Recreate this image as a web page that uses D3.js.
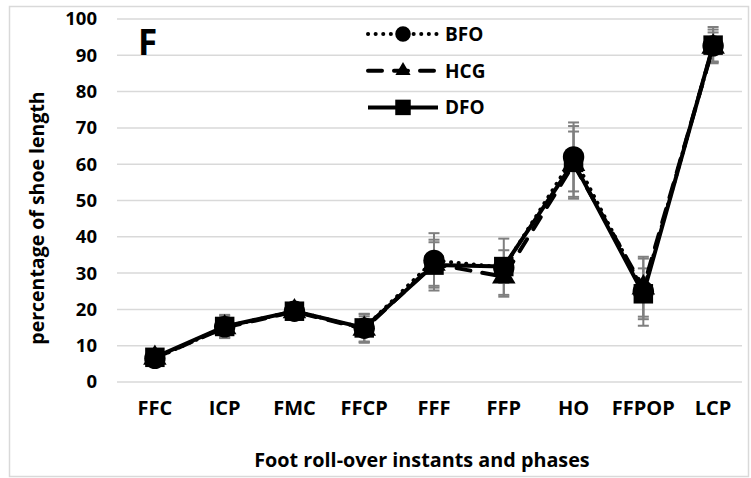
<!DOCTYPE html>
<html>
<head>
<meta charset="utf-8">
<script src="https://cdnjs.cloudflare.com/ajax/libs/d3/7.8.5/d3.min.js"></script>
<style>
  body { margin: 0; background: #fff; }
  svg text { font-family: "Open Sans", sans-serif; font-weight: bold; fill: #000; }
</style>
</head>
<body>
<svg width="751" height="478"></svg>
<script>
const phases = ['FFC', 'ICP', 'FMC', 'FFCP', 'FFF', 'FFP', 'HO', 'FFPOP', 'LCP'];
const yTicks = [0, 10, 20, 30, 40, 50, 60, 70, 80, 90, 100];

const bfo = [6.5, 15.2, 19.5, 14.8, 33.5, 31.5, 62.0, 25.0, 92.6];
const hcg = [6.6, 15.0, 19.4, 14.6, 32.5, 29.0, 60.0, 26.0, 92.3];
const dfo = [6.8, 15.3, 19.5, 14.9, 32.2, 31.8, 60.5, 24.3, 92.8];

const bfoSd = [1.5, 3.0, 1.5, 4.0, 7.5, 8.0, 9.5, 9.5, 4.5];
const hcgSd = [1.2, 2.5, 1.2, 3.5, 6.0, 5.0, 9.0, 8.0, 4.0];
const dfoSd = [1.4, 3.2, 1.4, 3.8, 7.0, 4.5, 10.0, 7.0, 5.0];

const series = [
  { name: 'BFO', values: bfo, sd: bfoSd, dash: '0.1,7.5', shape: 'circle' },
  { name: 'HCG', values: hcg, sd: hcgSd, dash: '14,12', shape: 'triangle' },
  { name: 'DFO', values: dfo, sd: dfoSd, dash: null, shape: 'square' }
];

const svg = d3.select('svg');

// chart frame
svg.append('rect')
  .attr('x', 9.5).attr('y', 6.5)
  .attr('width', 739).attr('height', 470)
  .attr('fill', '#fff')
  .attr('stroke', '#d9d9d9')
  .attr('stroke-width', 1.5);

let x = d3.scaleBand().domain(phases).range([120, 748]);
let y = d3.scaleLinear().domain([0, 100]).range([382, 19]);

// gridlines
svg.append('g')
  .selectAll('line')
  .data(yTicks)
  .enter()
  .append('line')
  .attr('x1', 117).attr('x2', 742)
  .attr('y1', d => y(d)).attr('y2', d => y(d))
  .attr('stroke', '#d9d9d9')
  .attr('stroke-width', 1.5);

// y axis labels
let yAxis = d3.axisLeft(y).tickValues(yTicks).tickSize(0).tickPadding(0);
let yg = svg.append('g')
  .attr('transform', 'translate(97,0)')
  .call(yAxis);
yg.select('.domain').remove();
yg.selectAll('text').style('font-size', '18.5px').style('font-family', null);

// x axis labels
let xAxis = d3.axisBottom(x).tickSize(0).tickPadding(0);
let xg = svg.append('g')
  .attr('transform', 'translate(0,401)')
  .call(xAxis);
xg.select('.domain').remove();
xg.selectAll('text').style('font-size', '20px').style('font-family', null);

// axis titles
svg.append('text')
  .attr('x', 422).attr('y', 467)
  .attr('text-anchor', 'middle')
  .style('font-size', '19.8px')
  .text('Foot roll-over instants and phases');

svg.append('text')
  .attr('transform', 'rotate(-90)')
  .attr('x', -218).attr('y', 44)
  .attr('text-anchor', 'middle')
  .style('font-size', '19.5px')
  .text('percentage of shoe length');

// panel letter
svg.append('text')
  .attr('x', 138).attr('y', 55)
  .style('font-size', '35px')
  .text('F');

let cx = d => x(d) + x.bandwidth() / 2;

// error bars
series.forEach(s => {
  let g = svg.append('g').attr('stroke', '#7f7f7f').attr('stroke-width', 2);
  s.values.forEach((v, i) => {
    let px = cx(phases[i]);
    let top = y(v + s.sd[i]), bot = y(v - s.sd[i]);
    g.append('line').attr('x1', px).attr('x2', px).attr('y1', top).attr('y2', bot);
    g.append('line').attr('x1', px - 5.5).attr('x2', px + 5.5).attr('y1', top).attr('y2', top);
    g.append('line').attr('x1', px - 5.5).attr('x2', px + 5.5).attr('y1', bot).attr('y2', bot);
  });
});

let line = d3.line()
  .x((d, i) => cx(phases[i]))
  .y(d => y(d));

function marker(g, shape, px, py, big) {
  let sym = { circle: d3.symbolCircle, triangle: d3.symbolTriangle, square: d3.symbolSquare }[shape];
  let size = big ? { circle: 360, triangle: 240, square: 380 }[shape]
                 : { circle: 190, triangle: 100, square: 240 }[shape];
  g.append('path')
    .attr('d', d3.symbol().type(sym).size(size)())
    .attr('transform', `translate(${px},${py})`)
    .attr('fill', '#000');
}

series.forEach(s => {
  svg.append('path')
    .datum(s.values)
    .attr('d', line)
    .attr('fill', 'none')
    .attr('stroke', '#000')
    .attr('stroke-width', 4)
    .attr('stroke-linecap', s.dash ? 'round' : 'butt')
    .attr('stroke-linejoin', 'round')
    .attr('stroke-dasharray', s.dash);
  let g = svg.append('g');
  s.values.forEach((v, i) => marker(g, s.shape, cx(phases[i]), y(v), true));
});

// legend
let legend = svg.append('g');
series.forEach((s, i) => {
  let ly = 34 + i * 36.7;
  legend.append('line')
    .attr('x1', 368).attr('x2', 438)
    .attr('y1', ly).attr('y2', ly)
    .attr('stroke', '#000')
    .attr('stroke-width', 4)
    .attr('stroke-linecap', s.dash ? 'round' : 'butt')
    .attr('stroke-dasharray', s.dash);
  marker(legend, s.shape, 403, ly, false);
  legend.append('text')
    .attr('x', 445).attr('y', ly)
    .attr('dy', '0.36em')
    .style('font-size', '19px')
    .text(s.name);
});
</script>
</body>
</html>
